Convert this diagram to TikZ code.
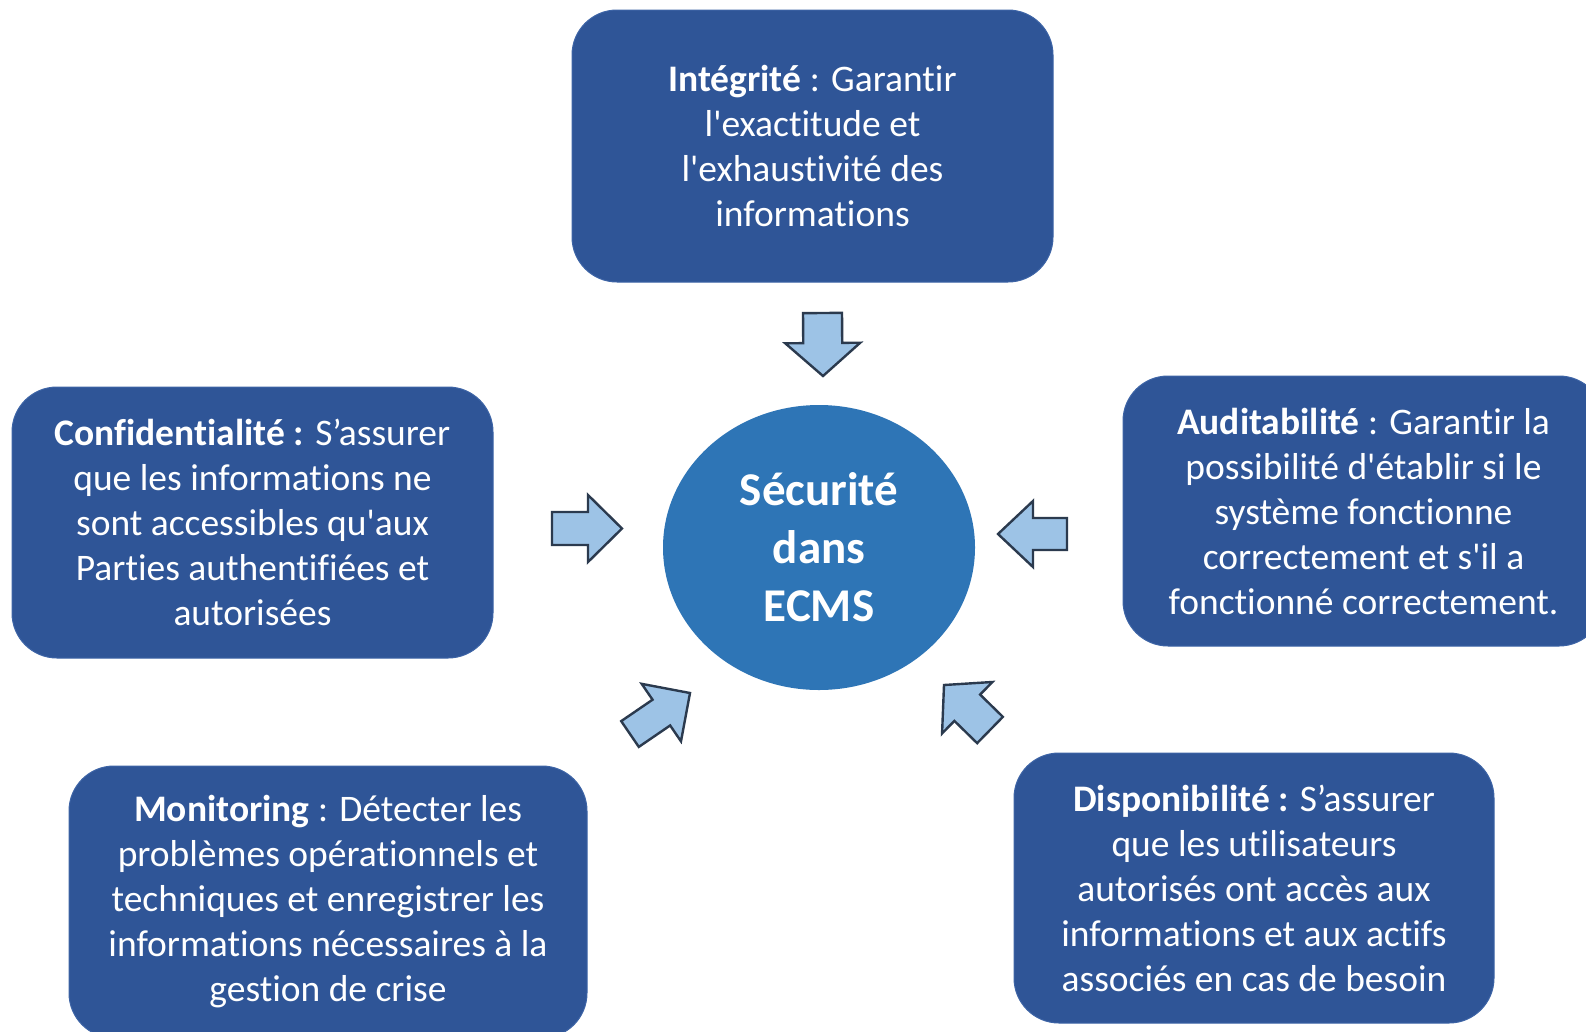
\documentclass[tikz,border=0pt]{standalone}
\usepackage{fontspec}
\setmainfont[Ligatures={TeX,NoCommon}]{Carlito}
\usetikzlibrary{shapes.geometric,calc}
\definecolor{boxblue}{HTML}{2F5597}
\definecolor{boxedge}{HTML}{3D64A6}
\definecolor{circblue}{HTML}{2E75B6}
\definecolor{arrfill}{HTML}{9DC3E6}
\definecolor{arrline}{HTML}{2B3A4E}
\newcommand\sq{\textquotesingle}
% #1 name, #2 tail, #3 tip, #4 shaft half width, #5 head half width, #6 head length
\newcommand\blockarrow[6]{%
  \coordinate (#1-t) at (#2);
  \coordinate (#1-p) at (#3);
  \coordinate (#1-h) at ($(#1-p)!#6!(#1-t)$);
  \draw[blockarr] ($(#1-t)!#4!90:(#1-p)$) -- ($(#1-h)!#4!90:(#1-p)$)
    -- ($(#1-h)!#5!90:(#1-p)$) -- (#1-p) -- ($(#1-h)!#5!-90:(#1-p)$)
    -- ($(#1-h)!#4!-90:(#1-p)$) -- ($(#1-t)!#4!-90:(#1-p)$) -- cycle;}
\begin{document}
\begin{tikzpicture}[x=1pt,y=-1pt,
  infobox/.style={rectangle, rounded corners=45pt, fill=boxblue, draw=boxedge,
    line width=1pt, text=white, align=center, inner sep=0pt,
    font=\fontsize{37.5}{45}\selectfont},
  centre/.style={ellipse, fill=circblue, draw=none, text=white, align=center,
    inner sep=0pt, minimum width=312pt, minimum height=285pt,
    font=\fontsize{47}{58}\selectfont\bfseries},
  blockarr/.style={fill=arrfill, draw=arrline, line width=2.4pt, line join=miter}]
\useasboundingbox (0,0) rectangle (1586,1031);
\fill[white] (0,0) rectangle (1586,1031);

\node[infobox, minimum width=481pt, minimum height=272pt] (integ) at (812.5,146)
  {\textbf{Intégrité} : Garantir\\ l\sq exactitude et\\ l\sq exhaustivité des\\ informations};
\node[infobox, minimum width=481pt, minimum height=271pt] (confid) at (252.5,522.5)
  {\textbf{Confidentialité :} S’assurer\\ que les informations ne\\ sont accessibles qu\sq aux\\ Parties authentifiées et\\ autorisées};
\node[infobox, minimum width=481pt, minimum height=270pt] (audit) at (1363.5,511)
  {\textbf{Auditabilité} : Garantir la\\ possibilité d\sq établir si le\\ système fonctionne\\ correctement et s\sq il a\\ fonctionné correctement.};
\node[infobox, minimum width=518pt, minimum height=272pt] (monit) at (328,902)
  {\textbf{Monitoring} : Détecter les\\ problèmes opérationnels et\\ techniques et enregistrer les\\ informations nécessaires à la\\ gestion de crise};
\node[infobox, minimum width=480pt, minimum height=270pt] (dispo) at (1254,888)
  {\textbf{Disponibilité :} S’assurer\\ que les utilisateurs\\ autorisés ont accès aux\\ informations et aux actifs\\ associés en cas de besoin};

\node[centre] (secu) at (819,547.5) {\raisebox{0pt}{Sécurité}\\ dans\\ ECMS};

\blockarrow{adown}{822.5,313}{823,376}{19.5pt}{37.5pt}{33pt}
\blockarrow{aright}{552,528.5}{622,528.5}{16.5pt}{33.5pt}{34pt}
\blockarrow{aleft}{1067,534}{998,534}{16pt}{33pt}{35pt}
\blockarrow{aupright}{630,734}{690,693}{15.6pt}{34.8pt}{34.7pt}
\blockarrow{aupleft}{990,730}{944,685}{18.4pt}{36pt}{32.5pt}
\end{tikzpicture}
\end{document}
